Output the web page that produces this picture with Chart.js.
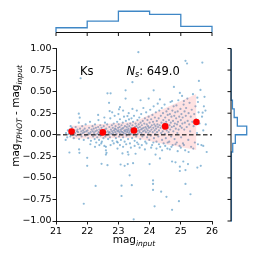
<!DOCTYPE html>
<html><head><meta charset="utf-8">
<script src="https://cdn.jsdelivr.net/npm/chart.js@4/dist/chart.umd.min.js"></script>
<style>
html,body{margin:0;padding:0;background:#fff;}
#wrap{position:relative;width:258px;height:258px;overflow:hidden;}
canvas{position:absolute;left:0;top:0;}
</style></head><body>
<div id="wrap">
<canvas id="main" width="258" height="258"></canvas>
<canvas id="top" width="258" height="45"></canvas>
<canvas id="right" width="258" height="258"></canvas>
</div>
<script>
// ---------------- data ----------------
const bandLabel = 'Ks';
const nSources = 649.0;
const xTicks = [21, 22, 23, 24, 25, 26];
const yTicks = [-1, -0.75, -0.5, -0.25, 0, 0.25, 0.5, 0.75, 1];
const binCenters = [21.5, 22.5, 23.5, 24.5, 25.5];
const binMedians = [0.038, 0.027, 0.05, 0.097, 0.148];
const bandUpper = [0.105, 0.125, 0.15, 0.31, 0.473];
const bandLower = [-0.045, -0.04, -0.035, -0.11, -0.178];
const topEdges = [21, 22, 23, 24, 25, 26];
const topCounts = [50, 120, 223, 191, 65];
const rightEdges = [-1.0,-0.9,-0.8,-0.7,-0.6,-0.5,-0.4,-0.3,-0.2,-0.1,0.0,0.1,0.2,0.3,0.4,0.5,0.6,0.7,0.8,0.9,1.0];
const rightCounts = [1,4,4,5,6,5,14,16,30,75,273,110,55,25,14,5,4,0,3,0];
// scatter points [mag_input, mag_TPHOT - mag_input]
const outlierPts = [
[21.79,0.655],[22.65,0.48],[22.75,0.48],[23.23,0.515],[22.70,0.37],[23.23,0.42],[22.72,0.275],[23.02,0.295],[23.29,0.217],[23.34,0.178],[21.73,0.244],[21.76,0.198],[21.73,0.14],[21.47,0.10],
[25.15,0.857],[25.2,0.826],[25.69,0.837],[25.58,0.624],[24.78,0.555],[24.13,0.515],[25.53,0.43],[24.33,0.41],[23.71,0.40],[23.97,0.42],[24.72,0.39],[25.1,0.39],[25.74,0.33],[25.7,0.256],[25.8,0.12],
[23.64,0.957],[23.45,0.61],[24.97,0.485],
[21.43,-0.206],[21.74,-0.17],[21.75,-0.21],[22.0,-0.267],[22.0,-0.36],[22.27,-0.593],[21.89,-0.80],[22.46,-0.337],[22.65,-0.353],[22.39,-0.12],[22.6,-0.14],[22.6,-0.18],[22.62,-0.21],[22.6,-0.23],[22.97,-0.16],[22.95,-0.08],[23.13,-0.217],[23.07,-0.345],[23.2,-0.36],[23.3,-0.34],[23.47,-0.33],[23.36,-0.47],[23.1,-0.59],[23.1,-0.71],[23.43,-0.585],[23.3,-0.2],[23.32,-0.23],[21.31,-0.06],
[23.55,-0.22],[24.0,-0.34],[24.19,-0.23],[24.33,-0.275],[24.72,-0.31],[24.83,-0.32],[25.08,-0.31],[25.23,-0.34],[24.97,-0.37],[24.97,-0.42],[25.15,-0.41],[25.53,-0.38],[25.64,-0.36],[24.11,-0.53],[24.11,-0.57],[24.11,-0.64],[24.37,-0.66],[24.54,-0.72],[25.15,-0.57],[25.31,-0.69],[24.94,-0.77],[24.16,-0.83],[24.72,-0.87],[23.49,-0.98]
];
const bandPts = [
[21.32,0.02],[21.36,-0.03],[21.38,0.05],
[21.41,0.01],[21.44,0.06],[21.46,-0.02],[21.49,0.04],
[21.51,0.08],[21.53,0.00],[21.55,0.03],[21.57,-0.04],[21.59,0.05],
[21.61,0.02],[21.63,0.09],[21.65,-0.01],[21.67,0.04],[21.69,0.06],
[21.71,0.03],[21.74,-0.05],[21.77,0.07],[21.79,0.01],
[21.81,0.04],[21.82,-0.02],[21.84,0.10],[21.86,0.02],[21.87,0.05],[21.89,-0.06],
[21.91,0.03],[21.92,0.07],[21.94,-0.01],[21.95,0.12],[21.97,0.04],[21.99,0.00],
[22.01,0.05],[22.03,-0.04],[22.04,0.02],[22.06,0.08],[22.08,0.01],[22.09,0.15],
[22.11,0.03],[22.12,-0.07],[22.14,0.06],[22.15,0.00],[22.17,0.10],[22.18,0.04],[22.19,-0.02],
[22.21,0.07],[22.22,0.02],[22.24,-0.05],[22.25,0.12],[22.26,0.04],[22.27,0.00],[22.28,0.08],[22.29,-0.09],
[22.31,0.05],[22.32,-0.03],[22.33,0.01],[22.35,0.09],[22.36,0.17],[22.37,0.03],[22.38,-0.06],[22.39,0.06],
[22.41,0.02],[22.42,0.11],[22.43,-0.01],[22.44,0.05],[22.46,0.08],[22.47,-0.08],[22.49,0.03],
[22.51,0.04],[22.52,-0.04],[22.53,0.10],[22.54,0.01],[22.56,0.06],[22.57,0.14],[22.58,-0.02],[22.59,0.03],
[22.61,0.07],[22.63,0.00],[22.64,0.12],[22.66,0.04],[22.67,-0.05],[22.69,0.02],
[22.71,0.09],[22.72,0.03],[22.73,-0.03],[22.74,0.19],[22.76,0.06],[22.77,0.01],[22.79,0.11],
[22.80,0.04],[22.81,-0.07],[22.82,0.08],[22.83,0.02],[22.85,0.13],[22.86,0.05],[22.87,-0.01],[22.88,0.22],[22.89,0.07],
[22.90,0.03],[22.91,0.10],[22.92,-0.04],[22.93,0.06],[22.94,0.01],[22.96,0.15],[22.97,0.04],[22.98,-0.09],[22.99,0.08],
[23.00,0.05],[23.01,0.12],[23.02,-0.02],[23.03,0.03],[23.04,0.09],[23.05,0.18],[23.06,0.01],[23.07,0.06],[23.08,-0.06],[23.09,0.04],[23.10,0.11],[23.11,0.00],[23.12,0.07],
[23.13,0.03],[23.14,0.14],[23.15,-0.03],[23.16,0.08],[23.17,0.02],[23.18,0.21],[23.19,0.05],[23.20,-0.08],[23.21,0.10],[23.22,0.04],[23.23,0.01],[23.24,0.16],[23.25,0.06],
[23.26,-0.01],[23.27,0.09],[23.28,0.03],[23.29,0.12],[23.30,0.05],[23.31,-0.05],[23.32,0.07],[23.33,0.25],[23.34,0.02],[23.35,0.10],[23.36,0.04],[23.37,-0.10],[23.38,0.13],[23.39,0.06],
[23.40,0.01],[23.41,0.08],[23.42,0.19],[23.43,0.03],[23.44,-0.04],[23.45,0.11],[23.46,0.05],[23.47,0.15],[23.48,0.00],[23.49,0.07],[23.50,0.22],[23.51,0.04],[23.52,-0.07],[23.53,0.09],
[23.54,0.02],[23.55,0.13],[23.56,0.06],[23.57,-0.02],[23.58,0.10],[23.59,0.28],[23.60,0.04],[23.61,0.17],[23.62,0.01],[23.63,0.08],[23.64,-0.11],[23.65,0.12],[23.66,0.05],[23.67,0.20],
[23.68,0.03],[23.69,0.09],[23.70,-0.05],[23.71,0.14],[23.72,0.06],[23.73,0.24],[23.74,0.02],[23.75,0.11],[23.76,0.07],[23.77,-0.02],[23.78,0.16],[23.79,0.04],[23.80,0.31],[23.81,0.08],
[23.82,0.00],[23.83,0.13],[23.84,0.05],[23.85,0.19],[23.86,-0.08],[23.87,0.09],[23.88,0.03],[23.89,0.26],[23.90,0.07],[23.91,0.12],[23.92,-0.03],[23.93,0.17],[23.94,0.05],[23.95,0.10],
[23.96,0.02],[23.97,0.21],[23.98,0.08],[23.99,-0.06],[24.00,0.14],[24.01,0.04],[24.02,0.29],[24.03,0.09],[24.04,-0.01],[24.05,0.18],
[24.06,0.06],[24.07,0.11],[24.08,-0.12],[24.09,0.23],[24.10,0.03],[24.11,0.15],[24.12,0.08],[24.13,0.33],[24.14,-0.04],[24.15,0.12],[24.16,0.05],[24.17,0.20],[24.18,0.01],[24.19,0.10],
[24.20,0.26],[24.21,0.07],[24.22,-0.08],[24.23,0.16],[24.24,0.03],[24.25,0.12],[24.26,0.36],[24.27,0.09],[24.28,-0.02],[24.29,0.19],[24.30,0.05],[24.31,0.28],[24.32,0.11],[24.34,-0.14],
[24.35,0.08],[24.36,0.22],[24.37,0.02],[24.38,0.14],[24.39,0.31],[24.40,-0.06],[24.41,0.10],[24.42,0.04],[24.43,0.25],[24.44,0.17],[24.45,-0.10],[24.46,0.07],[24.47,0.13],
[24.48,0.35],[24.49,0.01],[24.50,0.20],[24.51,0.09],[24.52,-0.04],[24.53,0.15],[24.54,0.27],[24.55,0.05],[24.56,0.12],[24.57,-0.16],[24.58,0.23],[24.59,0.08],[24.60,0.30],
[24.61,0.03],[24.62,0.17],[24.63,-0.08],[24.64,0.11],[24.65,0.24],[24.66,0.06],[24.67,0.38],[24.68,0.14],[24.69,-0.02],[24.70,0.21],[24.71,0.09],[24.73,0.28],
[24.74,-0.12],[24.75,0.16],[24.76,0.04],[24.77,0.33],[24.78,0.10],[24.79,0.22],[24.80,-0.05],[24.81,0.13],[24.82,0.26],[24.84,0.07],[24.85,0.19],
[24.86,0.34],[24.87,-0.09],[24.88,0.12],[24.89,0.02],[24.90,0.27],[24.91,0.15],[24.92,0.40],[24.93,0.06],[24.95,0.21],[24.96,-0.13],
[24.98,0.10],[24.99,0.30],[25.00,0.17],[25.01,-0.03],[25.02,0.24],[25.03,0.08],[25.04,0.45],[25.05,0.13],
[25.06,0.20],[25.07,-0.10],[25.09,0.35],[25.11,0.06],[25.12,0.27],[25.13,0.14],[25.14,-0.18],[25.16,0.22],
[25.17,0.31],[25.19,0.09],[25.21,0.42],[25.22,0.16],[25.24,-0.06],[25.25,0.25],[25.27,0.12],
[25.28,0.37],[25.30,0.04],[25.32,0.21],[25.33,-0.14],[25.35,0.29],[25.37,0.15],
[25.39,0.47],[25.41,0.10],[25.43,0.24],[25.45,-0.09],[25.47,0.33],
[25.49,0.18],[25.52,0.02],[25.55,0.38],[25.57,0.26],
[25.60,0.13],[25.63,0.52],[25.66,-0.12],
[25.68,0.21],[25.72,0.05],[25.76,0.44],
[25.79,0.28],[25.83,-0.20],
[23.52,-0.13],[23.60,-0.09],[23.68,-0.15],[23.75,-0.12],[23.85,-0.17],[23.90,-0.10],[24.05,-0.15],[24.12,-0.09],[24.22,-0.16],[24.30,-0.11],[24.40,-0.18],[24.50,-0.13],[24.58,-0.09],[24.65,-0.17],[24.70,-0.14],[24.83,-0.11],[24.90,-0.19],[25.00,-0.15],[25.10,-0.12],[25.25,-0.20],[25.40,-0.16],[25.55,-0.11],[25.72,-0.13],
[22.10,-0.11],[22.25,-0.14],[22.45,-0.10],[22.55,-0.13],[22.75,-0.12],[22.85,-0.10],[23.05,-0.12],[23.15,-0.14],[23.25,-0.11],[23.40,-0.15],
[22.35,0.23],[22.55,0.20],[22.80,0.26],[23.00,0.24],[23.15,0.28],[23.45,0.30],[23.05,0.32]
];

// ---------------- setup ----------------
Chart.defaults.font.family = '"DejaVu Sans", sans-serif';
Chart.defaults.font.size = 9;
Chart.defaults.color = '#000';
const FONT = '"DejaVu Sans", sans-serif';
const HIST_COLOR = '#3f87c6';
const NOCOLOR = 'rgba(0,0,0,0)';

const baseOpts = {
  responsive: false, animation: false, devicePixelRatio: 1,
  plugins: { legend: { display: false }, tooltip: { enabled: false } }
};
const fmtY = v => (v < 0 ? '\u2212' : '') + Math.abs(v).toFixed(2);
const axisGrid = { drawOnChartArea: false, drawTicks: true, tickLength: 3.5, color: '#000', lineWidth: 0.9 };
const axisBorder = { display: true, color: '#000', width: 0.9 };

function richText(ctx, parts, x, y, align) {
  let w = 0;
  parts.forEach(p => { ctx.font = (p.it ? 'italic ' : '') + p.s + 'px ' + FONT; p.w = ctx.measureText(p.t).width; w += p.w; });
  let cx = align === 'center' ? x - w / 2 : x;
  parts.forEach(p => { ctx.font = (p.it ? 'italic ' : '') + p.s + 'px ' + FONT; ctx.fillText(p.t, cx, y + (p.dy || 0)); cx += p.w; });
}

const textPlugin = {
  id: 'texts',
  afterDraw(chart) {
    const ctx = chart.ctx;
    ctx.save();
    ctx.fillStyle = '#000';
    ctx.textBaseline = 'alphabetic';
    ctx.textAlign = 'left';
    richText(ctx, [{ t: bandLabel, s: 11.5 }], 80, 74.5);
    richText(ctx, [{ t: 'N', s: 11.5, it: true }, { t: 's', s: 8, it: true, dy: 2.5 }, { t: ': ' + nSources.toFixed(1), s: 11.5 }], 126.5, 74.5);
    richText(ctx, [{ t: 'mag', s: 10.5 }, { t: 'input', s: 7.5, it: true, dy: 2.5 }], 134, 243, 'center');
    ctx.translate(19, 116);
    ctx.rotate(-Math.PI / 2);
    richText(ctx, [{ t: 'mag', s: 10.5 }, { t: 'TPHOT', s: 7.5, it: true, dy: 2.5 }, { t: ' - mag', s: 10.5 }, { t: 'input', s: 7.5, it: true, dy: 2.5 }], 0, 0, 'center');
    ctx.restore();
  }
};

// spine + outward ticks for the marginal histograms, placed through each chart's own scale
const spinePlugin = {
  id: 'spine',
  afterDraw(chart, args, opts) {
    const ctx = chart.ctx, a = chart.chartArea;
    const sc = chart.scales[opts.axis];
    ctx.save();
    ctx.strokeStyle = '#111';
    ctx.lineWidth = 1;
    ctx.beginPath();
    if (opts.axis === 'x') {
      ctx.moveTo(a.left, a.bottom); ctx.lineTo(a.right, a.bottom);
      opts.ticks.forEach(v => { const p = sc.getPixelForValue(v); ctx.moveTo(p, a.bottom); ctx.lineTo(p, a.bottom + 3.5); });
    } else {
      ctx.moveTo(a.left, a.top); ctx.lineTo(a.left, a.bottom);
      opts.ticks.forEach(v => { const p = sc.getPixelForValue(v); ctx.moveTo(a.left, p); ctx.lineTo(a.left - 3.5, p); });
    }
    ctx.stroke();
    ctx.restore();
  }
};

// ---------------- main scatter ----------------
const allPts = outlierPts.concat(bandPts).map(p => ({ x: p[0], y: p[1] }));
new Chart(document.getElementById('main'), {
  type: 'scatter',
  data: {
    datasets: [
      { label: 'median', data: binCenters.map((x, i) => ({ x, y: binMedians[i] })), pointRadius: 3.3, pointBackgroundColor: '#ff0000', pointBorderWidth: 0, order: 0 },
      { type: 'line', label: 'zero', data: [{ x: xTicks[0], y: 0 }, { x: xTicks[xTicks.length - 1], y: 0 }], borderColor: 'rgba(40,40,40,0.85)', borderWidth: 1.4, borderDash: [4.5, 2.5], pointRadius: 0, fill: false, order: 1 },
      { type: 'line', label: 'upper', data: binCenters.map((x, i) => ({ x, y: bandUpper[i] })), borderWidth: 0, borderColor: NOCOLOR, pointRadius: 0, fill: '+1', backgroundColor: 'rgba(255,60,60,0.15)', tension: 0, order: 2 },
      { type: 'line', label: 'lower', data: binCenters.map((x, i) => ({ x, y: bandLower[i] })), borderWidth: 0, borderColor: NOCOLOR, pointRadius: 0, fill: false, tension: 0, order: 2 },
      { label: 'sources', data: allPts, pointRadius: 1.1, pointBackgroundColor: 'rgba(31,119,180,0.5)', pointBorderWidth: 0, order: 3 }
    ]
  },
  options: Object.assign({}, baseOpts, {
    layout: { padding: { left: 0, top: 48.5, right: 46, bottom: 0 } },
    scales: {
      x: {
        type: 'linear', min: xTicks[0], max: xTicks[xTicks.length - 1],
        afterFit(s) { s.height = 37; },
        afterBuildTicks(s) { s.ticks = xTicks.map(v => ({ value: v })); },
        ticks: { padding: 1, font: { size: 9.5 }, callback: v => String(v) },
        grid: axisGrid, border: axisBorder
      },
      y: {
        type: 'linear', min: -1, max: 1,
        afterFit(s) { s.width = 56; },
        afterBuildTicks(s) { s.ticks = yTicks.map(v => ({ value: v })); },
        ticks: { padding: 1, font: { size: 9.5 }, callback: fmtY },
        grid: axisGrid, border: axisBorder
      }
    }
  }),
  plugins: [textPlugin]
});

// ---------------- marginal histograms ----------------
function stepOutline(edges, counts, swap) {
  const pts = [[edges[0], 0]];
  counts.forEach((c, i) => { pts.push([edges[i], c]); pts.push([edges[i + 1], c]); });
  pts.push([edges[edges.length - 1], 0]);
  return pts.map(p => swap ? { x: p[1], y: p[0] } : { x: p[0], y: p[1] });
}
new Chart(document.getElementById('top'), {
  type: 'scatter',
  data: { datasets: [{ data: stepOutline(topEdges, topCounts, false), showLine: true, pointRadius: 0, borderColor: HIST_COLOR, borderWidth: 1.3, clip: false }] },
  options: Object.assign({}, baseOpts, {
    layout: { padding: { left: 56, top: 10, right: 46, bottom: 12.5 } },
    plugins: { legend: { display: false }, tooltip: { enabled: false }, spine: { axis: 'x', ticks: xTicks } },
    scales: {
      x: { type: 'linear', display: false, min: topEdges[0], max: topEdges[topEdges.length - 1] },
      y: { type: 'linear', display: false, min: 0, max: 236 }
    }
  }),
  plugins: [spinePlugin]
});

new Chart(document.getElementById('right'), {
  type: 'scatter',
  data: { datasets: [{ data: stepOutline(rightEdges, rightCounts, true), showLine: true, pointRadius: 0, borderColor: HIST_COLOR, borderWidth: 1.3, clip: false }] },
  options: Object.assign({}, baseOpts, {
    layout: { padding: { left: 231, top: 48.5, right: 5, bottom: 37 } },
    plugins: { legend: { display: false }, tooltip: { enabled: false }, spine: { axis: 'y', ticks: yTicks } },
    scales: {
      x: { type: 'linear', display: false, min: 0, max: 382 },
      y: { type: 'linear', display: false, min: -1, max: 1 }
    }
  }),
  plugins: [spinePlugin]
});
</script>
</body></html>
